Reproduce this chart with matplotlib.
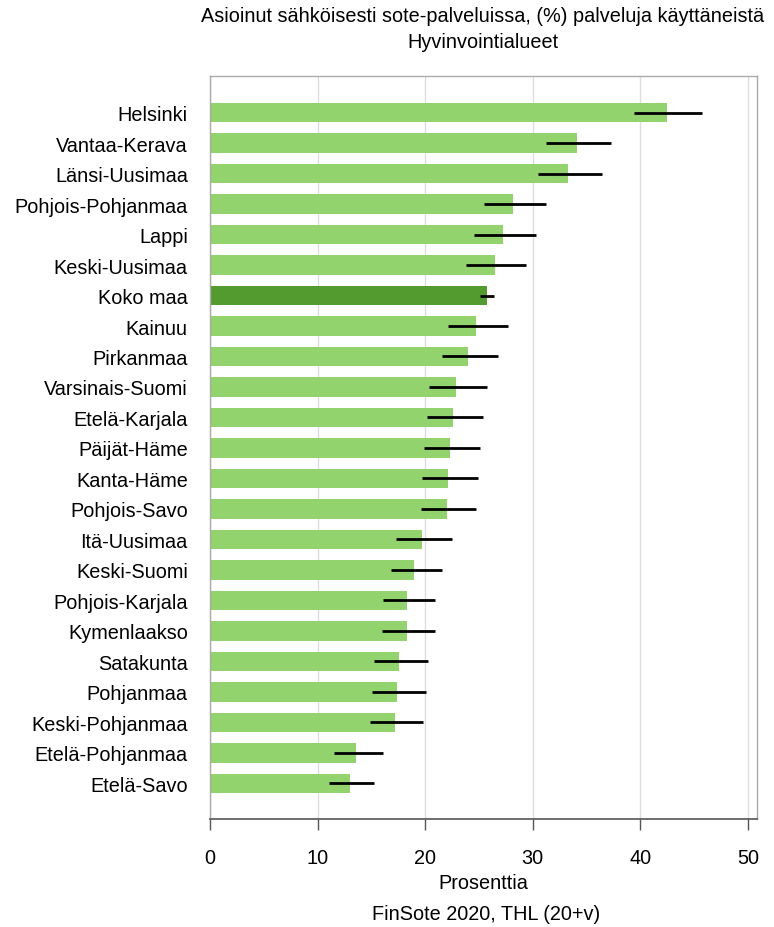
import matplotlib
matplotlib.use("Agg")
import matplotlib.pyplot as plt
import numpy as np

plt.rcParams['font.family'] = ['Liberation Sans', 'DejaVu Sans']

regions = ["Helsinki", "Vantaa-Kerava", "Länsi-Uusimaa", "Pohjois-Pohjanmaa", "Lappi",
           "Keski-Uusimaa", "Koko maa", "Kainuu", "Pirkanmaa", "Varsinais-Suomi",
           "Etelä-Karjala", "Päijät-Häme", "Kanta-Häme", "Pohjois-Savo", "Itä-Uusimaa",
           "Keski-Suomi", "Pohjois-Karjala", "Kymenlaakso", "Satakunta", "Pohjanmaa",
           "Keski-Pohjanmaa", "Etelä-Pohjanmaa", "Etelä-Savo"]
values = [42.5, 34.1, 33.3, 28.2, 27.2, 26.5, 25.7, 24.7, 24.0, 22.9, 22.6, 22.3,
          22.1, 22.0, 19.7, 19.0, 18.3, 18.3, 17.6, 17.4, 17.2, 13.6, 13.0]
ci_low = [39.4, 31.2, 30.5, 25.5, 24.5, 23.8, 25.1, 22.1, 21.6, 20.4, 20.2, 19.9,
          19.7, 19.6, 17.3, 16.8, 16.05, 16.0, 15.2, 15.1, 14.9, 11.5, 11.1]
ci_high = [45.7, 37.3, 36.4, 31.2, 30.3, 29.4, 26.4, 27.7, 26.8, 25.7, 25.4, 25.1,
           24.9, 24.7, 22.5, 21.6, 20.9, 20.9, 20.25, 20.1, 19.8, 16.1, 15.2]
highlight = "Koko maa"

FS = 14.3

fig = plt.figure(figsize=(7.74, 9.28), dpi=100)
ax = fig.add_axes([210/774, 1-820/928, 547/774, (820-77)/928])

y = np.arange(len(regions))
colors = ['#539a2f' if r == highlight else '#92d36e' for r in regions]
ax.barh(y, values, height=0.64, color=colors, zorder=2)
for yi, lo, hi in zip(y, ci_low, ci_high):
    ax.plot([lo, hi], [yi, yi], color='black', lw=2, solid_capstyle='butt', zorder=3)

n = len(regions)
ax.set_ylim(n - 1 + 1.17, -1.2)
ax.set_xlim(0, 50.84)
ax.set_xticks([0, 10, 20, 30, 40, 50])
ax.set_yticks(y)
ax.set_yticklabels(regions, fontsize=FS)
ax.tick_params(axis='y', length=0, pad=16)
ax.tick_params(axis='x', length=8, width=1, color='#555555', labelsize=FS, pad=13, direction='out')
ax.grid(axis='x', color='#dddddd', lw=1, zorder=0)
ax.set_axisbelow(True)
for s in ['left', 'top', 'right']:
    ax.spines[s].set_color('#aaaaaa')
    ax.spines[s].set_linewidth(1)
ax.spines['bottom'].set_color('#555555')
ax.spines['bottom'].set_linewidth(1.2)

ax.set_xlabel("Prosenttia", fontsize=FS, labelpad=4)
fig.text(483/774, 1-17/928, "Asioinut sähköisesti sote-palveluissa, (%) palveluja käyttäneistä",
         ha='center', va='center', fontsize=FS)
fig.text(483/774, 1-42/928, "Hyvinvointialueet", ha='center', va='center', fontsize=FS)
fig.text(486/774, 1-915/928, "FinSote 2020, THL (20+v)", ha='center', va='center', fontsize=FS)

fig.savefig("out.png", dpi=100, facecolor='white')
